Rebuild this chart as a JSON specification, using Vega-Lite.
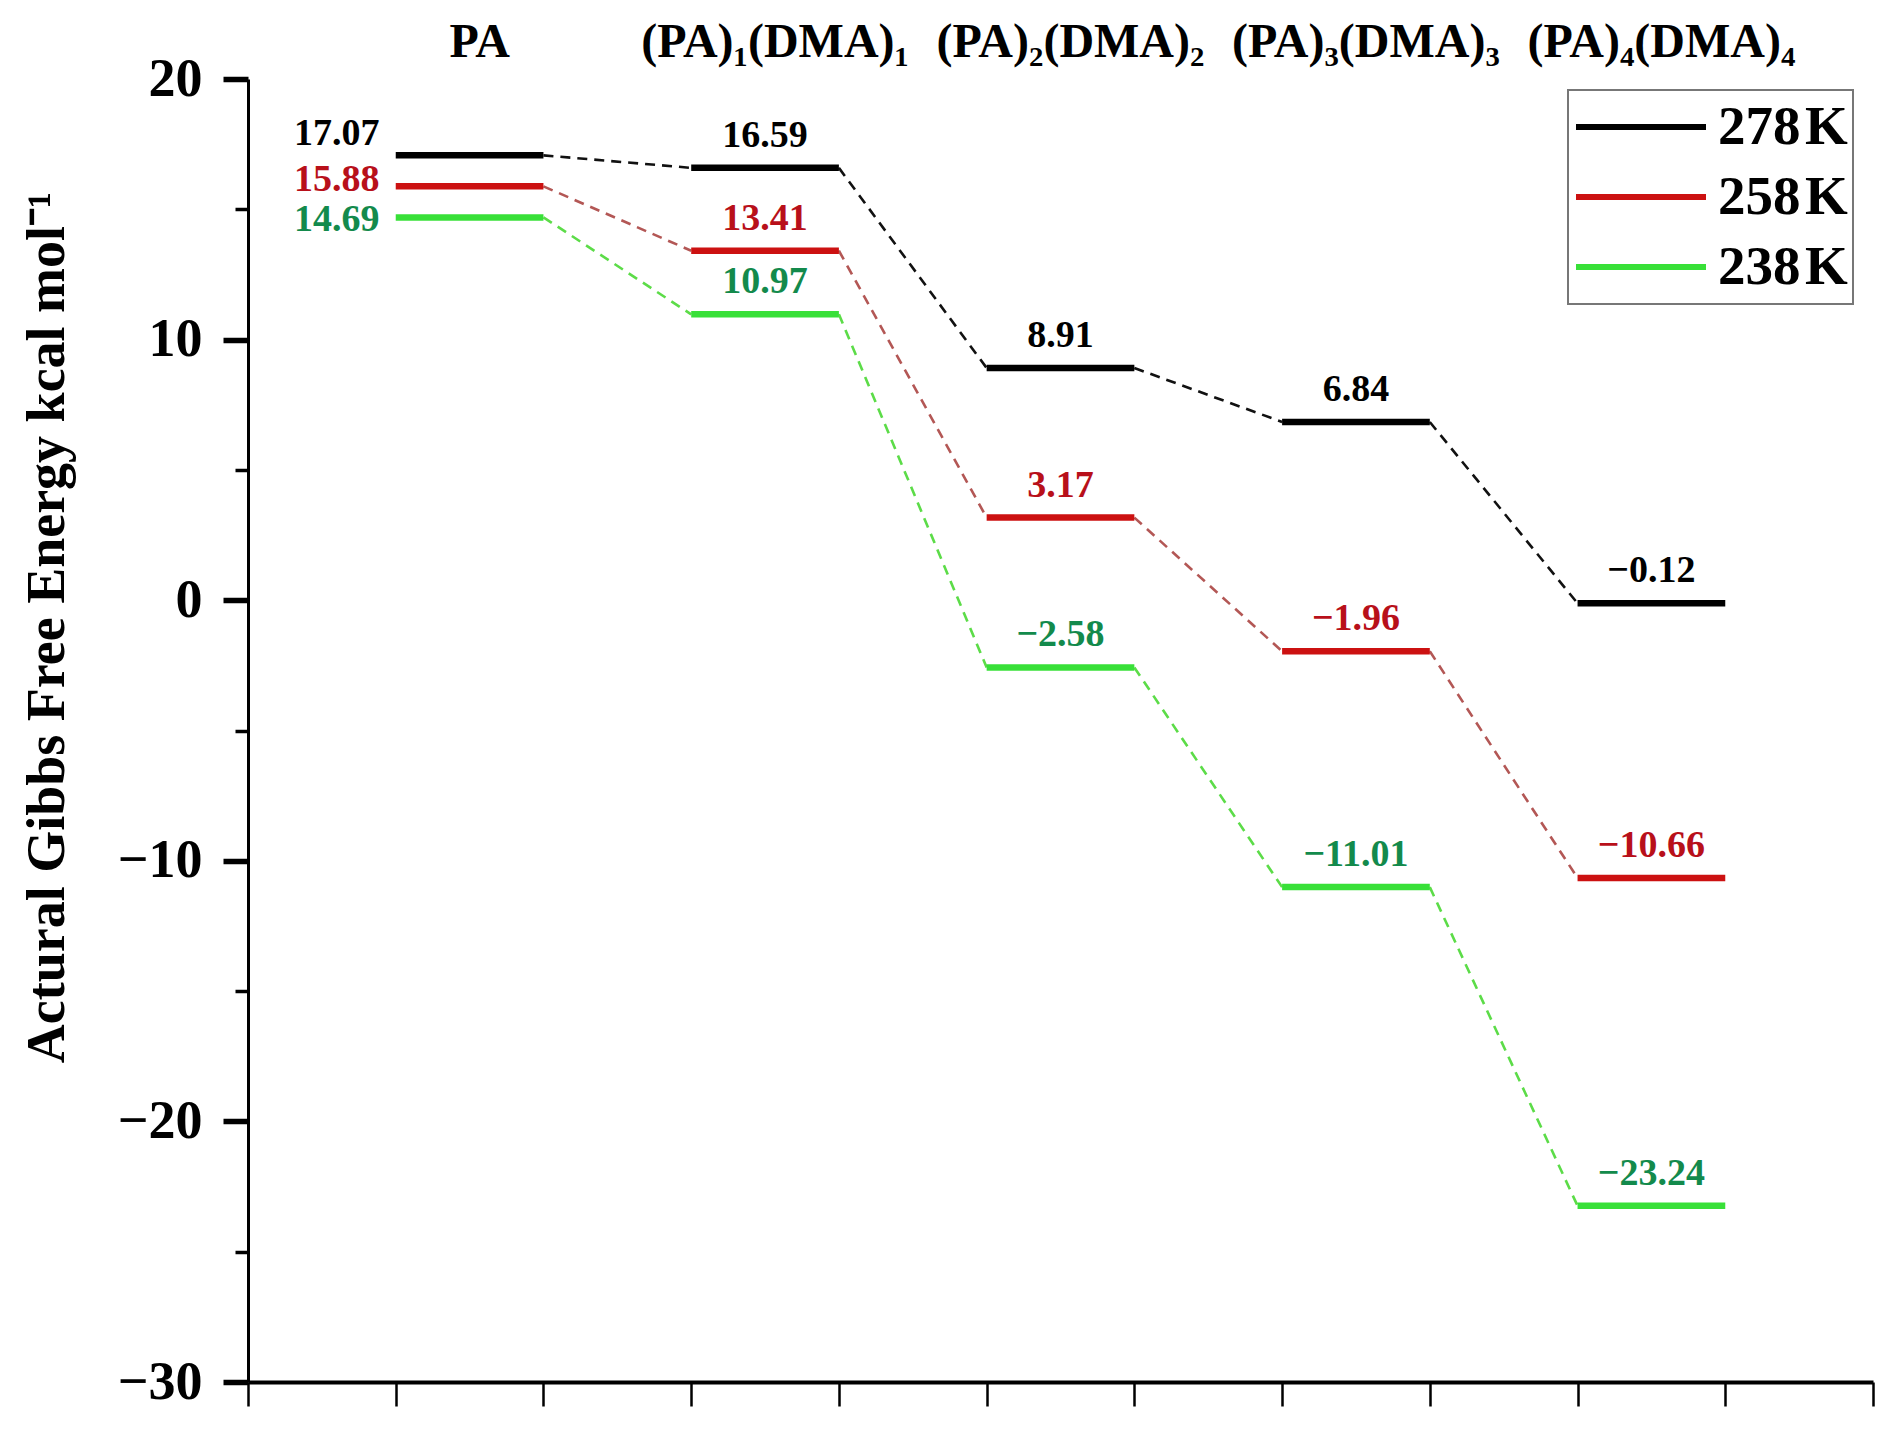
{
  "$schema": "https://vega.github.io/schema/vega-lite/v6.json",
  "width": 1625,
  "height": 1303,
  "autosize": {"type": "none"},
  "padding": {"left": 248, "top": 79, "right": 19, "bottom": 49},
  "background": "white",
  "config": {
    "view": {"stroke": null},
    "font": "Liberation Serif",
    "legend": {"strokeWidth": 2}
  },
  "data": {
    "values": [
      {"stage": "PA", "n": 0, "temp": "278\u200aK", "G": 17.07},
      {"stage": "PA", "n": 0, "temp": "258\u200aK", "G": 15.88},
      {"stage": "PA", "n": 0, "temp": "238\u200aK", "G": 14.69},
      {"stage": "(PA)₁(DMA)₁", "n": 1, "temp": "278\u200aK", "G": 16.59},
      {"stage": "(PA)₁(DMA)₁", "n": 1, "temp": "258\u200aK", "G": 13.41},
      {"stage": "(PA)₁(DMA)₁", "n": 1, "temp": "238\u200aK", "G": 10.97},
      {"stage": "(PA)₂(DMA)₂", "n": 2, "temp": "278\u200aK", "G": 8.91},
      {"stage": "(PA)₂(DMA)₂", "n": 2, "temp": "258\u200aK", "G": 3.17},
      {"stage": "(PA)₂(DMA)₂", "n": 2, "temp": "238\u200aK", "G": -2.58},
      {"stage": "(PA)₃(DMA)₃", "n": 3, "temp": "278\u200aK", "G": 6.84},
      {"stage": "(PA)₃(DMA)₃", "n": 3, "temp": "258\u200aK", "G": -1.96},
      {"stage": "(PA)₃(DMA)₃", "n": 3, "temp": "238\u200aK", "G": -11.01},
      {"stage": "(PA)₄(DMA)₄", "n": 4, "temp": "278\u200aK", "G": -0.12},
      {"stage": "(PA)₄(DMA)₄", "n": 4, "temp": "258\u200aK", "G": -10.66},
      {"stage": "(PA)₄(DMA)₄", "n": 4, "temp": "238\u200aK", "G": -23.24}
    ]
  },
  "layer": [
    {
      "transform": [
        {
          "window": [
            {"op": "lead", "field": "G", "as": "G_next"},
            {"op": "lead", "field": "n", "as": "n_next"}
          ],
          "groupby": ["temp"],
          "sort": [{"field": "n", "order": "ascending"}]
        },
        {"filter": "datum.n_next != null"}
      ],
      "mark": {"type": "rule", "strokeDash": [10, 7], "strokeWidth": 2.6, "xOffset": 73.85, "x2Offset": -73.85},
      "encoding": {
        "x": {"field": "n", "type": "quantitative"},
        "x2": {"field": "n_next"},
        "y": {"field": "G", "type": "quantitative"},
        "y2": {"field": "G_next"},
        "stroke": {
          "condition": [
            {"test": "datum.temp === '278\u200aK'", "value": "#111111"},
            {"test": "datum.temp === '258\u200aK'", "value": "#b35755"}
          ],
          "value": "#5cdc48"
        }
      }
    },
    {
      "mark": {"type": "rule", "strokeWidth": 6.5, "strokeCap": "butt", "xOffset": -73.85, "x2Offset": 73.85},
      "encoding": {
        "x": {
          "field": "n", "type": "quantitative",
          "scale": {"domain": [-0.75, 4.75], "nice": false, "zero": false},
          "axis": {
            "values": [-0.75, -0.25, 0.25, 0.75, 1.25, 1.75, 2.25, 2.75, 3.25, 3.75, 4.25, 4.75],
            "labels": false, "title": null, "grid": false,
            "tickSize": 24, "tickWidth": 2.5, "tickColor": "#000000",
            "domainColor": "#000000", "domainWidth": 4
          }
        },
        "x2": {"field": "n"},
        "y": {
          "field": "G", "type": "quantitative",
          "scale": {"domain": [-30, 20], "nice": false, "zero": false},
          "axis": {
            "values": [-30, -25, -20, -15, -10, -5, 0, 5, 10, 15, 20],
            "labelExpr": "datum.value % 10 === 0 ? datum.label : ''",
            "grid": false,
            "title": "Actural Gibbs Free Energy kcal mol⁻¹",
            "titleFont": "Liberation Serif", "titleFontSize": 54, "titleFontWeight": "bold", "titleColor": "#000000",
            "titleAngle": -90, "titleAlign": "center", "titleBaseline": "alphabetic",
            "titleX": -185, "titleY": 548,
            "labelFont": "Liberation Serif", "labelFontSize": 54, "labelFontWeight": "bold", "labelColor": "#000000",
            "labelPadding": 21,
            "tickSize": {"condition": {"test": "datum.value % 10 === 0", "value": 25}, "value": 13},
            "tickWidth": {"condition": {"test": "datum.value % 10 === 0", "value": 5.5}, "value": 3.5},
            "tickColor": "#000000",
            "domainColor": "#000000", "domainWidth": 3
          }
        },
        "color": {
          "field": "temp", "type": "nominal",
          "scale": {"domain": ["278\u200aK", "258\u200aK", "238\u200aK"], "range": ["#000000", "#cc1111", "#38e038"]},
          "legend": {
            "title": null, "orient": "none", "legendX": 1320, "legendY": 11,
            "symbolType": "stroke", "symbolSize": 16900, "symbolStrokeWidth": 6,
            "clipHeight": 64, "rowPadding": 6, "padding": 5, "labelOffset": 9,
            "labelFont": "Liberation Serif", "labelFontSize": 55, "labelFontWeight": "bold",
            "labelColor": "#000000", "labelLimit": 400,
            "strokeColor": "#777777", "fillColor": "white"
          }
        }
      }
    },
    {
      "transform": [{"filter": "datum.n > 0"}],
      "mark": {"type": "text", "fontSize": 38, "fontWeight": "bold", "font": "Liberation Serif", "align": "center", "baseline": "alphabetic", "dy": -21},
      "encoding": {
        "x": {"field": "n", "type": "quantitative"},
        "y": {"field": "G", "type": "quantitative"},
        "text": {"field": "G", "type": "quantitative", "format": ".2f"},
        "fill": {
          "condition": [
            {"test": "datum.temp === '278\u200aK'", "value": "#000000"},
            {"test": "datum.temp === '258\u200aK'", "value": "#b8101a"}
          ],
          "value": "#138a4c"
        }
      }
    },
    {
      "transform": [{"filter": {"and": [{"field": "n", "equal": 0}, {"field": "temp", "equal": "278\u200aK"}]}}],
      "mark": {"type": "text", "fontSize": 38, "fontWeight": "bold", "font": "Liberation Serif", "align": "right", "baseline": "alphabetic", "dx": -90, "dy": -10, "color": "#000000"},
      "encoding": {
        "x": {"field": "n", "type": "quantitative"},
        "y": {"field": "G", "type": "quantitative"},
        "text": {"field": "G", "type": "quantitative", "format": ".2f"}
      }
    },
    {
      "transform": [{"filter": {"and": [{"field": "n", "equal": 0}, {"field": "temp", "equal": "258\u200aK"}]}}],
      "mark": {"type": "text", "fontSize": 38, "fontWeight": "bold", "font": "Liberation Serif", "align": "right", "baseline": "alphabetic", "dx": -90, "dy": 5, "color": "#b8101a"},
      "encoding": {
        "x": {"field": "n", "type": "quantitative"},
        "y": {"field": "G", "type": "quantitative"},
        "text": {"field": "G", "type": "quantitative", "format": ".2f"}
      }
    },
    {
      "transform": [{"filter": {"and": [{"field": "n", "equal": 0}, {"field": "temp", "equal": "238\u200aK"}]}}],
      "mark": {"type": "text", "fontSize": 38, "fontWeight": "bold", "font": "Liberation Serif", "align": "right", "baseline": "alphabetic", "dx": -90, "dy": 14, "color": "#138a4c"},
      "encoding": {
        "x": {"field": "n", "type": "quantitative"},
        "y": {"field": "G", "type": "quantitative"},
        "text": {"field": "G", "type": "quantitative", "format": ".2f"}
      }
    },
    {
      "transform": [{"filter": {"field": "temp", "equal": "278\u200aK"}}],
      "mark": {"type": "text", "fontSize": 48, "fontWeight": "bold", "font": "Liberation Serif", "align": "center", "baseline": "alphabetic", "dx": 10, "color": "#000000"},
      "encoding": {
        "x": {"field": "n", "type": "quantitative"},
        "y": {"datum": 20.84},
        "text": {"field": "stage", "type": "nominal"}
      }
    }
  ]
}
